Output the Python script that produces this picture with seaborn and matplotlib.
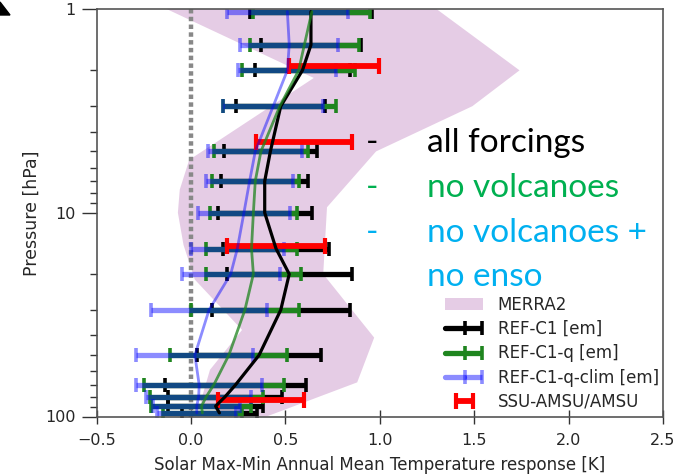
import matplotlib
matplotlib.use("Agg")
import matplotlib.pyplot as plt
import seaborn as sns
import pandas as pd
from matplotlib.legend_handler import HandlerTuple

# ---------------- data ----------------
levels = [1.03, 1.5, 2, 3, 5, 7, 10, 15, 20, 30, 50, 70, 80, 89, 96]   # hPa
ref_c1 = [0.635, 0.635, 0.59, 0.475, 0.42, 0.39, 0.39, 0.45, 0.52, 0.475, 0.36, 0.235, 0.18, 0.13, 0.15]
ref_c1_err = [0.325, 0.265, 0.25, 0.236, 0.245, 0.23, 0.25, 0.28, 0.33, 0.365, 0.33, 0.373, 0.30, 0.25, 0.20]
ref_c1q = [0.64, 0.60, 0.57, 0.47, 0.37, 0.34, 0.33, 0.32, 0.33, 0.285, 0.20, 0.12, 0.08, 0.055, 0.06]
ref_c1q_err = [0.31, 0.29, 0.30, 0.30, 0.25, 0.23, 0.23, 0.24, 0.25, 0.285, 0.31, 0.37, 0.30, 0.265, 0.21]
ref_c1qclim = [0.51, 0.52, 0.51, 0.435, 0.34, 0.31, 0.28, 0.245, 0.21, 0.095, 0.02, 0.043, 0.04, 0.03, 0.03]
ref_c1qclim_err = [0.32, 0.26, 0.26, 0.265, 0.25, 0.23, 0.245, 0.245, 0.26, 0.305, 0.31, 0.333, 0.28, 0.23, 0.21]

obs_levels = [1.9, 4.5, 14.6, 83]
obs = [0.756, 0.598, 0.449, 0.368]
obs_err = [0.237, 0.255, 0.261, 0.228]

# MERRA2 envelope: right edge (top -> bottom), left edge (bottom -> top)
merra_right_p = [1, 2, 3, 5, 9.4, 20, 41, 68, 100]
merra_right = [1.30, 1.74, 1.49, 0.98, 0.72, 0.70, 0.97, 0.88, 0.40]
merra_left_p = [100, 85, 59, 37.6, 21.3, 14.4, 10, 7.7, 5.5, 4.4, 2.18, 1]
merra_left = [0.20, 0.05, 0.10, 0.27, 0.02, -0.04, -0.07, -0.06, -0.01, 0.15, 0.65, -0.13]

xticks = [-0.5, 0.0, 0.5, 1.0, 1.5, 2.0, 2.5]
yticks = [1, 10, 100]
series_labels = ["REF-C1 [em]", "REF-C1-q [em]", "REF-C1-q-clim [em]"]
annot_lines = ["all forcings", "no volcanoes", "no volcanoes +", "no enso"]

# ---------------- plot ----------------
sns.set_style("ticks")
plt.rcParams["font.family"] = ["DejaVu Sans"]

W, H = 679, 476
fig = plt.figure(figsize=(W / 100, H / 100), dpi=100)
ax_l, ax_r, ax_t, ax_b = 96.7, 663, 9, 416.5
ax = fig.add_axes([ax_l / W, 1 - ax_b / H, (ax_r - ax_l) / W, (ax_b - ax_t) / H])
ax.set_yscale("log")

merra = ax.fill(merra_right + merra_left, merra_right_p + merra_left_p,
                color="purple", alpha=0.2, lw=0, zorder=1, label="MERRA2")[0]

ax.plot([0, 0], [1, 100], color="#888888", lw=3.2, linestyle=(0, (1, 0.75)), zorder=1.5)

green = "#1f851f"
specs = [
    (ref_c1, ref_c1_err, "black", 1.0, 2.0, 2.3),
    (ref_c1q, ref_c1q_err, green, 1.0, 2.2, 2.0),
    (ref_c1qclim, ref_c1qclim_err, "blue", 0.45, 2.4, 2.0),
]
handles = [merra]
for (vals, errs, col, alpha, z, lw), lab in zip(specs, series_labels):
    eb = ax.errorbar(vals, levels, xerr=errs, fmt="none", ecolor=col, alpha=alpha,
                     elinewidth=3.8, capsize=5, capthick=2.6, zorder=z)
    df = pd.DataFrame({"x": vals, "p": levels})
    sns.lineplot(data=df, x="x", y="p", orient="y", sort=False, estimator=None,
                 color=col, alpha=(0.75 if col == green else alpha), lw=lw,
                 zorder=3 + z / 10, ax=ax, legend=False)
    proxy = plt.Line2D([], [], color=col, alpha=alpha, lw=3.8)
    handles.append((proxy, eb))

ebr = ax.errorbar(obs, obs_levels, xerr=obs_err, fmt="none", ecolor="red",
                  elinewidth=4.2, capsize=6, capthick=3, zorder=2.8)
handles.append(ebr)

ax.set_xlim(-0.5, 2.5)
ax.set_ylim(100, 1)
ax.set_xticks(xticks)
ax.set_xticklabels([f"{t:.1f}".replace("-", "\u2212") for t in xticks], fontsize=11.5)
ax.set_yticks(yticks)
ax.set_yticklabels([str(t) for t in yticks], fontsize=11.5)
ax.tick_params(axis="x", direction="inout", length=10, width=1, color="#333333", pad=7)
ax.tick_params(axis="y", which="major", direction="out", length=11, width=1, color="#333333", pad=4)
ax.tick_params(axis="y", which="minor", direction="out", length=5, width=1, color="#333333")
for s in ax.spines.values():
    s.set_color("#555555")
    s.set_linewidth(1.2)
ax.set_xlabel("Solar Max-Min Annual Mean Temperature response [K]", fontsize=12, labelpad=6)
ax.set_ylabel("Pressure [hPa]", fontsize=12.5, labelpad=3)

# legend: lower-left corner of the handle area at pixel (445, 411)
lx = (445 - ax_l) / (ax_r - ax_l)
ly = (ax_b - 411) / (ax_b - ax_t)
leg = ax.legend(handles, ["MERRA2"] + series_labels + ["SSU-AMSU/AMSU"],
                handler_map={tuple: HandlerTuple(ndivide=None)},
                loc="lower left", bbox_to_anchor=(lx, ly), borderaxespad=0, borderpad=0,
                frameon=False, fontsize=12, handlelength=2.3, labelspacing=0.38,
                handletextpad=0.85)

# overlaid annotation text
afont = ["Lato", "DejaVu Sans"]
cols = ["black", "#00b050", "#00b0f0", "#00b0f0"]
ys = [143, 188, 233, 277]
dash_ys = [143, 188, 233, None]
for txt, c, y, dy in zip(annot_lines, cols, ys, dash_ys):
    fig.text(427 / W, 1 - y / H, txt, color=c, fontsize=24, family=afont, va="center", ha="left")
    if dy is not None:
        fig.text(366 / W, 1 - dy / H, "-", color=c, fontsize=24, family=afont, va="center", ha="left")

# fragment of a panel marker at the top-left corner
fig.patches.append(plt.Polygon([[0, 1 - 2 / H], [10 / W, 1 - 15 / H], [0, 1 - 15 / H]],
                               closed=True, transform=fig.transFigure, color="black"))

fig.savefig("out.png", dpi=100)
